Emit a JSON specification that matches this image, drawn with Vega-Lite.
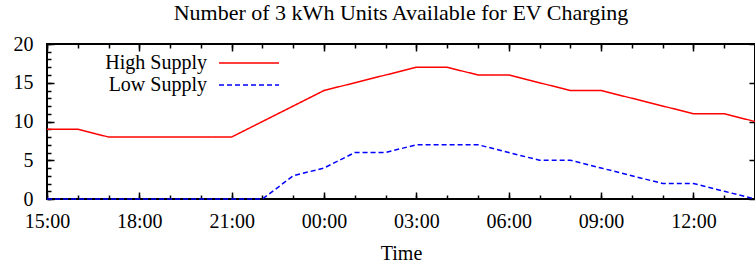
{
  "$schema": "https://vega.github.io/schema/vega-lite/v6.json",
  "width": 708,
  "height": 155,
  "autosize": {"type": "none"},
  "padding": {"left": 47, "top": 44, "right": 0, "bottom": 72},
  "background": "white",
  "title": {"text": "Number of 3 kWh Units Available for EV Charging", "font": "Liberation Serif", "fontSize": 22, "fontWeight": "normal", "color": "black", "anchor": "middle", "offset": 9},
  "config": {
    "title": {"font": "Liberation Serif", "fontWeight": "normal"},
    "view": {"stroke": "black", "strokeWidth": 2},
    "axis": {"ticks": false, "grid": true, "gridColor": "#000000", "gridOpacity": 1, "gridWidth": 1.5, "labelFont": "Liberation Serif", "labelFontSize": 20, "labelColor": "black", "titleFont": "Liberation Serif", "titleFontSize": 20, "titleFontWeight": "normal", "titleColor": "black", "domain": false}
  },
  "data": {"values": [
    {"time": "2024-01-01T15:00", "series": "High Supply", "value": 9},
    {"time": "2024-01-01T16:00", "series": "High Supply", "value": 9},
    {"time": "2024-01-01T17:00", "series": "High Supply", "value": 8},
    {"time": "2024-01-01T18:00", "series": "High Supply", "value": 8},
    {"time": "2024-01-01T19:00", "series": "High Supply", "value": 8},
    {"time": "2024-01-01T20:00", "series": "High Supply", "value": 8},
    {"time": "2024-01-01T21:00", "series": "High Supply", "value": 8},
    {"time": "2024-01-01T22:00", "series": "High Supply", "value": 10},
    {"time": "2024-01-01T23:00", "series": "High Supply", "value": 12},
    {"time": "2024-01-02T00:00", "series": "High Supply", "value": 14},
    {"time": "2024-01-02T01:00", "series": "High Supply", "value": 15},
    {"time": "2024-01-02T02:00", "series": "High Supply", "value": 16},
    {"time": "2024-01-02T03:00", "series": "High Supply", "value": 17},
    {"time": "2024-01-02T04:00", "series": "High Supply", "value": 17},
    {"time": "2024-01-02T05:00", "series": "High Supply", "value": 16},
    {"time": "2024-01-02T06:00", "series": "High Supply", "value": 16},
    {"time": "2024-01-02T07:00", "series": "High Supply", "value": 15},
    {"time": "2024-01-02T08:00", "series": "High Supply", "value": 14},
    {"time": "2024-01-02T09:00", "series": "High Supply", "value": 14},
    {"time": "2024-01-02T10:00", "series": "High Supply", "value": 13},
    {"time": "2024-01-02T11:00", "series": "High Supply", "value": 12},
    {"time": "2024-01-02T12:00", "series": "High Supply", "value": 11},
    {"time": "2024-01-02T13:00", "series": "High Supply", "value": 11},
    {"time": "2024-01-02T14:00", "series": "High Supply", "value": 10},
    {"time": "2024-01-01T15:00", "series": "Low Supply", "value": 0},
    {"time": "2024-01-01T16:00", "series": "Low Supply", "value": 0},
    {"time": "2024-01-01T17:00", "series": "Low Supply", "value": 0},
    {"time": "2024-01-01T18:00", "series": "Low Supply", "value": 0},
    {"time": "2024-01-01T19:00", "series": "Low Supply", "value": 0},
    {"time": "2024-01-01T20:00", "series": "Low Supply", "value": 0},
    {"time": "2024-01-01T21:00", "series": "Low Supply", "value": 0},
    {"time": "2024-01-01T22:00", "series": "Low Supply", "value": 0},
    {"time": "2024-01-01T23:00", "series": "Low Supply", "value": 3},
    {"time": "2024-01-02T00:00", "series": "Low Supply", "value": 4},
    {"time": "2024-01-02T01:00", "series": "Low Supply", "value": 6},
    {"time": "2024-01-02T02:00", "series": "Low Supply", "value": 6},
    {"time": "2024-01-02T03:00", "series": "Low Supply", "value": 7},
    {"time": "2024-01-02T04:00", "series": "Low Supply", "value": 7},
    {"time": "2024-01-02T05:00", "series": "Low Supply", "value": 7},
    {"time": "2024-01-02T06:00", "series": "Low Supply", "value": 6},
    {"time": "2024-01-02T07:00", "series": "Low Supply", "value": 5},
    {"time": "2024-01-02T08:00", "series": "Low Supply", "value": 5},
    {"time": "2024-01-02T09:00", "series": "Low Supply", "value": 4},
    {"time": "2024-01-02T10:00", "series": "Low Supply", "value": 3},
    {"time": "2024-01-02T11:00", "series": "Low Supply", "value": 2},
    {"time": "2024-01-02T12:00", "series": "Low Supply", "value": 2},
    {"time": "2024-01-02T13:00", "series": "Low Supply", "value": 1},
    {"time": "2024-01-02T14:00", "series": "Low Supply", "value": 0}
  ]},
  "layer": [
    {
      "mark": {"type": "point", "opacity": 0},
      "encoding": {
        "x": {"field": "time", "type": "temporal", "axis": {"orient": "bottom", "labels": false, "grid": true, "gridDash": [4, 2000], "title": null, "values": [
          {"year": 2024, "month": 1, "date": 1, "hours": 15}, {"year": 2024, "month": 1, "date": 1, "hours": 16}, {"year": 2024, "month": 1, "date": 1, "hours": 17}, {"year": 2024, "month": 1, "date": 1, "hours": 18},
          {"year": 2024, "month": 1, "date": 1, "hours": 19}, {"year": 2024, "month": 1, "date": 1, "hours": 20}, {"year": 2024, "month": 1, "date": 1, "hours": 21}, {"year": 2024, "month": 1, "date": 1, "hours": 22},
          {"year": 2024, "month": 1, "date": 1, "hours": 23}, {"year": 2024, "month": 1, "date": 2, "hours": 0}, {"year": 2024, "month": 1, "date": 2, "hours": 1}, {"year": 2024, "month": 1, "date": 2, "hours": 2},
          {"year": 2024, "month": 1, "date": 2, "hours": 3}, {"year": 2024, "month": 1, "date": 2, "hours": 4}, {"year": 2024, "month": 1, "date": 2, "hours": 5}, {"year": 2024, "month": 1, "date": 2, "hours": 6},
          {"year": 2024, "month": 1, "date": 2, "hours": 7}, {"year": 2024, "month": 1, "date": 2, "hours": 8}, {"year": 2024, "month": 1, "date": 2, "hours": 9}, {"year": 2024, "month": 1, "date": 2, "hours": 10},
          {"year": 2024, "month": 1, "date": 2, "hours": 11}, {"year": 2024, "month": 1, "date": 2, "hours": 12}, {"year": 2024, "month": 1, "date": 2, "hours": 13}, {"year": 2024, "month": 1, "date": 2, "hours": 14}]}},
        "y": {"field": "value", "type": "quantitative", "axis": {"orient": "left", "labels": false, "grid": true, "gridDash": [4, 2000], "values": [0,1,2,3,4,5,6,7,8,9,10,11,12,13,14,15,16,17,18,19,20], "title": null}}
      }
    },
    {
      "mark": {"type": "point", "opacity": 0},
      "encoding": {
        "x": {"field": "time", "type": "temporal", "axis": {"orient": "top", "labels": false, "grid": true, "gridDash": [4, 2000], "title": null, "values": [
          {"year": 2024, "month": 1, "date": 1, "hours": 15}, {"year": 2024, "month": 1, "date": 1, "hours": 16}, {"year": 2024, "month": 1, "date": 1, "hours": 17}, {"year": 2024, "month": 1, "date": 1, "hours": 18},
          {"year": 2024, "month": 1, "date": 1, "hours": 19}, {"year": 2024, "month": 1, "date": 1, "hours": 20}, {"year": 2024, "month": 1, "date": 1, "hours": 21}, {"year": 2024, "month": 1, "date": 1, "hours": 22},
          {"year": 2024, "month": 1, "date": 1, "hours": 23}, {"year": 2024, "month": 1, "date": 2, "hours": 0}, {"year": 2024, "month": 1, "date": 2, "hours": 1}, {"year": 2024, "month": 1, "date": 2, "hours": 2},
          {"year": 2024, "month": 1, "date": 2, "hours": 3}, {"year": 2024, "month": 1, "date": 2, "hours": 4}, {"year": 2024, "month": 1, "date": 2, "hours": 5}, {"year": 2024, "month": 1, "date": 2, "hours": 6},
          {"year": 2024, "month": 1, "date": 2, "hours": 7}, {"year": 2024, "month": 1, "date": 2, "hours": 8}, {"year": 2024, "month": 1, "date": 2, "hours": 9}, {"year": 2024, "month": 1, "date": 2, "hours": 10},
          {"year": 2024, "month": 1, "date": 2, "hours": 11}, {"year": 2024, "month": 1, "date": 2, "hours": 12}, {"year": 2024, "month": 1, "date": 2, "hours": 13}, {"year": 2024, "month": 1, "date": 2, "hours": 14}]}},
        "y": {"field": "value", "type": "quantitative", "axis": {"orient": "right", "labels": false, "grid": true, "gridDash": [6, 2000], "values": [0, 5, 10, 15, 20], "title": null}}
      }
    },
    {
      "mark": {"type": "point", "opacity": 0},
      "encoding": {
        "x": {"field": "time", "type": "temporal", "axis": {"orient": "top", "labels": false, "grid": true, "gridDash": [7, 2000], "title": null, "values": [
          {"year": 2024, "month": 1, "date": 1, "hours": 15}, {"year": 2024, "month": 1, "date": 1, "hours": 18}, {"year": 2024, "month": 1, "date": 1, "hours": 21},
          {"year": 2024, "month": 1, "date": 2, "hours": 0}, {"year": 2024, "month": 1, "date": 2, "hours": 3}, {"year": 2024, "month": 1, "date": 2, "hours": 6},
          {"year": 2024, "month": 1, "date": 2, "hours": 9}, {"year": 2024, "month": 1, "date": 2, "hours": 12}]}},
        "y": {"field": "value", "type": "quantitative", "axis": null}
      }
    },
    {
      "mark": {"type": "line", "strokeWidth": 1.5},
      "encoding": {
        "x": {"field": "time", "type": "temporal", "scale": {"domain": [{"year": 2024, "month": 1, "date": 1, "hours": 15}, {"year": 2024, "month": 1, "date": 2, "hours": 14}]}, "axis": {"orient": "bottom", "format": "%H:%M", "grid": true, "gridDash": [7, 2000], "values": [
          {"year": 2024, "month": 1, "date": 1, "hours": 15}, {"year": 2024, "month": 1, "date": 1, "hours": 18}, {"year": 2024, "month": 1, "date": 1, "hours": 21},
          {"year": 2024, "month": 1, "date": 2, "hours": 0}, {"year": 2024, "month": 1, "date": 2, "hours": 3}, {"year": 2024, "month": 1, "date": 2, "hours": 6},
          {"year": 2024, "month": 1, "date": 2, "hours": 9}, {"year": 2024, "month": 1, "date": 2, "hours": 12}], "labelFlush": false, "labelOverlap": false, "labelPadding": 12, "title": "Time", "titlePadding": 12}},
        "y": {"field": "value", "type": "quantitative", "scale": {"domain": [0, 20]}, "axis": {"orient": "left", "values": [0, 5, 10, 15, 20], "grid": true, "gridDash": [7, 2000], "labelFlush": false, "labelOverlap": false, "labelPadding": 14, "title": null}},
        "color": {"field": "series", "type": "nominal", "scale": {"domain": ["High Supply", "Low Supply"], "range": ["#ff0000", "#0000ff"]}, "legend": {"title": null, "orient": "none", "legendX": 191, "legendY": 8, "padding": 0, "symbolType": "M-3,0L3,0", "symbolSize": 400, "symbolStrokeWidth": 1.5, "symbolFillColor": "transparent", "labelAlign": "right", "labelOffset": -53, "rowPadding": 1, "labelFont": "Liberation Serif", "labelFontSize": 20, "labelColor": "black"}},
        "strokeDash": {"field": "series", "type": "nominal", "scale": {"domain": ["High Supply", "Low Supply"], "range": [[1, 0], [5, 3]]}, "legend": {"title": null, "orient": "none", "legendX": 191, "legendY": 8, "padding": 0, "symbolType": "M-3,0L3,0", "symbolSize": 400, "symbolStrokeWidth": 1.5, "symbolFillColor": "transparent", "labelAlign": "right", "labelOffset": -53, "rowPadding": 1, "labelFont": "Liberation Serif", "labelFontSize": 20, "labelColor": "black"}}
      }
    }
  ],
  "resolve": {"axis": {"x": "independent", "y": "independent"}}
}
